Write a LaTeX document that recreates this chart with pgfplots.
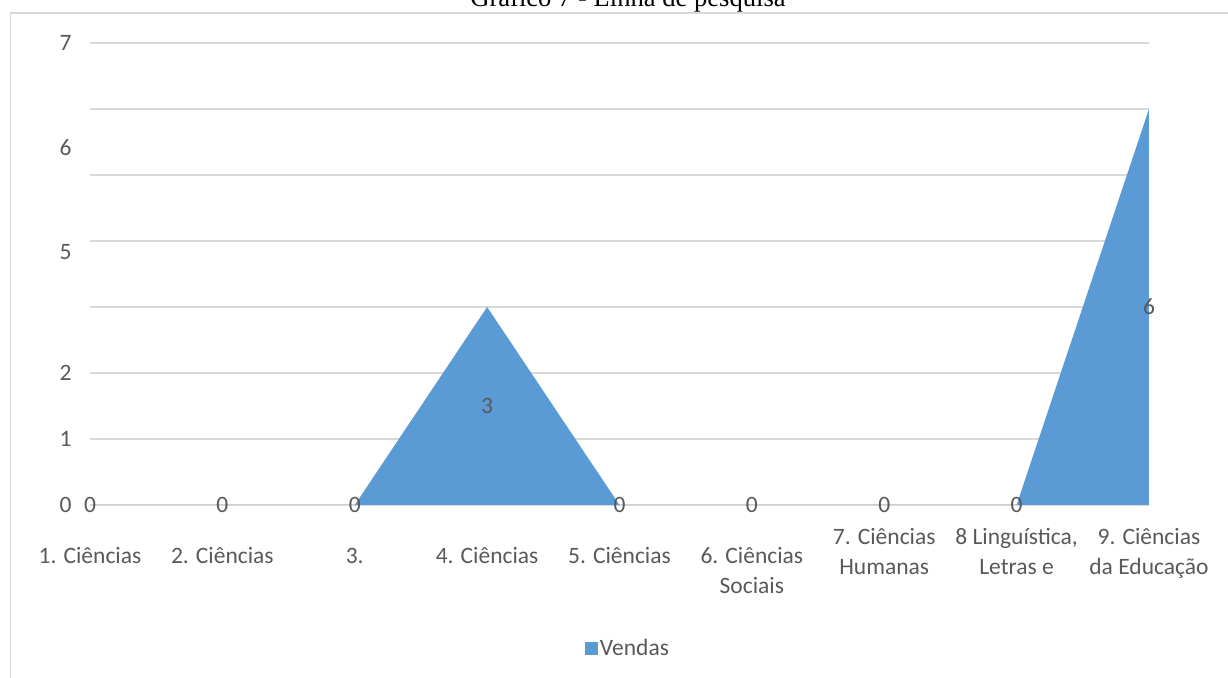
\documentclass[border=0pt]{standalone}
\usepackage{pgfplots}
\pgfplotsset{compat=1.18}
\usepackage{fontspec}
\setmainfont{Carlito}
\newfontfamily\timesf{Liberation Serif}
\definecolor{areablue}{HTML}{5B9BD5}
\definecolor{gridgray}{HTML}{D9D9D9}
\definecolor{txtgray}{HTML}{595959}

\pgfplotstableread{
x y
0 0
1 0
2 0
3 3
4 0
5 0
6 0
7 0
8 6
}\vendas

\pgfplotstableread{
x y v
0 0 0
1 0 0
2 0 0
3 1.5 3
4 0 0
5 0 0
6 0 0
7 0 0
8 3 6
}\rotulos

\begin{document}
\begin{tikzpicture}[x=1pt,y=1pt]
\draw[gridgray, line width=1.5pt] (10.5,-5) -- (10.5,664) -- (1240,664);
\node[anchor=base, font=\timesf\fontsize{26.6}{30}\selectfont, text=black] at (628,670) {Gráfico 7 - Linha de pesquisa};
\begin{axis}[
  at={(90pt,172pt)}, anchor=south west,
  scale only axis, width=1059pt, height=462pt,
  xmin=0, xmax=8, ymin=0, ymax=7,
  axis line style={draw=none},
  major tick length=0pt, minor tick length=0pt,
  xtick={0,1,2,3,4,5},
  xticklabels={{1. Ciências},{2. Ciências},{3.\vphantom{Ciê}},{4. Ciências},{5. Ciências},{6. Ciências\\Sociais}},
  extra x ticks={6,7,8},
  extra x tick labels={{7. Ciências\\Humanas},{8 Linguística,\\Letras e},{9. Ciências\\da Educação}},
  extra x tick style={xticklabel style={yshift=19pt}},
  ytick={0,1,2,3.83,5.42,7},
  yticklabels={0,1,2,5,6,7},
  minor ytick={0,1,2,3,4,5,6,7},
  yminorgrids=true,
  minor grid style={gridgray, line width=1.3pt},
  tick label style={font=\fontsize{23.5}{30}\selectfont, text=txtgray},
  xticklabel style={align=center, anchor=north, yshift=-39pt},
  yticklabel style={anchor=east, xshift=-15pt},
  /pgf/number format/assume math mode=true,
  clip=false,
  legend style={at={(0.508,-0.31)}, anchor=center, draw=none, fill=none,
    font=\fontsize{23.5}{30}\selectfont, text=txtgray},
  legend image code/.code={\fill[areablue] (0pt,-6.5pt) rectangle (13pt,6.5pt);},
]
\addplot[fill=areablue, draw=none] table[x=x,y=y] {\vendas} \closedcycle;
\addlegendentry{Vendas}
\addplot[draw=none, forget plot, nodes near coords, point meta=explicit,
  nodes near coords style={anchor=center, font=\fontsize{23.5}{30}\selectfont, text=txtgray}]
  table[x=x,y=y,meta=v] {\rotulos};
\end{axis}
\pgfresetboundingbox
\path[use as bounding box] (0,0) rectangle (1228,677);
\end{tikzpicture}
\end{document}
